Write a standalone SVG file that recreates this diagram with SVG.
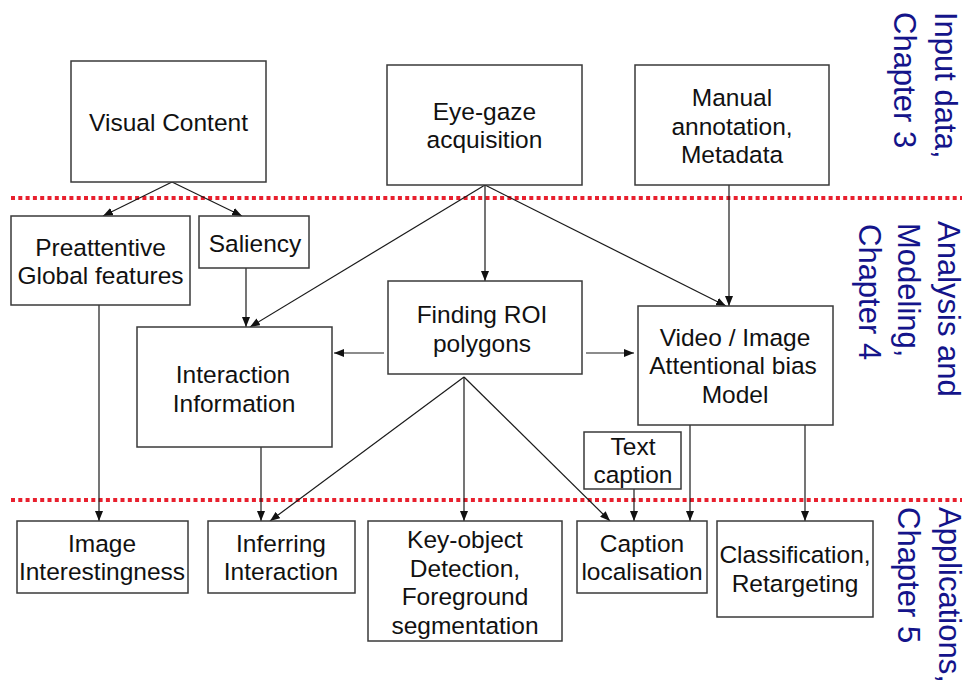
<svg xmlns="http://www.w3.org/2000/svg" width="968" height="686" viewBox="0 0 968 686">
  <style>
    .box { fill: #ffffff; stroke: #3a3a3a; stroke-width: 1.5; }
    .lbl { font-family: "Liberation Sans", Arial, sans-serif; font-size: 24.5px; fill: #111111; text-anchor: middle; }
    .side { font-family: "Liberation Sans", Arial, sans-serif; font-size: 31px; fill: #14148a; }
    .sep { stroke: #e8202e; stroke-width: 4; stroke-dasharray: 4 3.3; fill: none; }
    .edge { stroke: #1a1a1a; stroke-width: 1.2; fill: none; marker-end: url(#arrow); }
  </style>
  <defs>
    <marker id="arrow" markerUnits="userSpaceOnUse" markerWidth="10" markerHeight="8" refX="10" refY="4" orient="auto">
      <path d="M0,0 L10,4 L0,8 z" fill="#111111"/>
    </marker>
  </defs>
  <rect width="968" height="686" fill="#ffffff"/>

  <!-- stage separators -->
  <g id="separators">
    <line class="sep" x1="11" y1="198" x2="962" y2="198"/>
    <line class="sep" x1="11" y1="500" x2="962" y2="500"/>
  </g>

  <!-- stage labels, rotated -->
  <g id="stage-labels">
    <text class="side" transform="translate(935,12) rotate(90)">Input data,</text>
    <text class="side" transform="translate(894,12) rotate(90)">Chapter 3</text>
    <text class="side" transform="translate(938,221) rotate(90)">Analysis and</text>
    <text class="side" transform="translate(898,223) rotate(90)">Modeling,</text>
    <text class="side" transform="translate(859,224) rotate(90)">Chapter 4</text>
    <text class="side" transform="translate(939,507) rotate(90)">Applications,</text>
    <text class="side" transform="translate(898,507) rotate(90)">Chapter 5</text>
  </g>

  <!-- connectors -->
  <g id="connectors">
    <line class="edge" x1="172" y1="182" x2="103" y2="216"/>
    <line class="edge" x1="172" y1="182" x2="242" y2="216"/>
    <line class="edge" x1="485" y1="185" x2="250" y2="327"/>
    <line class="edge" x1="485" y1="185" x2="485" y2="281"/>
    <line class="edge" x1="485" y1="185" x2="726" y2="306"/>
    <line class="edge" x1="729" y1="185" x2="729" y2="306"/>
    <line class="edge" x1="246" y1="268" x2="246" y2="327"/>
    <line class="edge" x1="384" y1="353" x2="334" y2="353"/>
    <line class="edge" x1="586" y1="353" x2="634" y2="353"/>
    <line class="edge" x1="464" y1="377" x2="270" y2="521"/>
    <line class="edge" x1="464" y1="377" x2="464" y2="521"/>
    <line class="edge" x1="464" y1="377" x2="610" y2="521"/>
    <line class="edge" x1="261" y1="447" x2="261" y2="521"/>
    <line class="edge" x1="99" y1="305" x2="99" y2="521"/>
    <line class="edge" x1="634" y1="489" x2="634" y2="521"/>
    <line class="edge" x1="690" y1="425" x2="690" y2="521"/>
    <line class="edge" x1="805" y1="425" x2="805" y2="521"/>
  </g>

  <!-- input data -->
  <g id="visual-content">
    <rect class="box" x="71" y="61" width="195" height="121"/>
    <text class="lbl" x="168.5" y="131">Visual Content</text>
  </g>
  <g id="eye-gaze">
    <rect class="box" x="387" y="65" width="195" height="120"/>
    <text class="lbl" x="484.5" y="120">Eye-gaze</text>
    <text class="lbl" x="484.5" y="148">acquisition</text>
  </g>
  <g id="manual-annotation">
    <rect class="box" x="635" y="65" width="194" height="120"/>
    <text class="lbl" x="732" y="106">Manual</text>
    <text class="lbl" x="732" y="135">annotation,</text>
    <text class="lbl" x="732" y="163">Metadata</text>
  </g>

  <!-- analysis and modeling -->
  <g id="preattentive">
    <rect class="box" x="11" y="216" width="179" height="89"/>
    <text class="lbl" x="100.5" y="256">Preattentive</text>
    <text class="lbl" x="100.5" y="284">Global features</text>
  </g>
  <g id="saliency">
    <rect class="box" x="199" y="216" width="110" height="52"/>
    <text class="lbl" x="255" y="252">Saliency</text>
  </g>
  <g id="interaction-information">
    <rect class="box" x="137" y="327" width="195" height="120"/>
    <text class="lbl" x="233" y="383">Interaction</text>
    <text class="lbl" x="234" y="412">Information</text>
  </g>
  <g id="finding-roi">
    <rect class="box" x="388" y="281" width="194" height="93"/>
    <text class="lbl" x="482" y="323">Finding ROI</text>
    <text class="lbl" x="482" y="352">polygons</text>
  </g>
  <g id="attention-model">
    <rect class="box" x="638" y="306" width="195" height="119"/>
    <text class="lbl" x="735" y="346">Video / Image</text>
    <text class="lbl" x="733" y="374">Attentional bias</text>
    <text class="lbl" x="735" y="403">Model</text>
  </g>
  <g id="text-caption">
    <rect class="box" x="584" y="432" width="97" height="57"/>
    <text class="lbl" x="633" y="455">Text</text>
    <text class="lbl" x="633" y="483">caption</text>
  </g>

  <!-- applications -->
  <g id="image-interestingness">
    <rect class="box" x="17" y="521" width="171" height="72"/>
    <text class="lbl" x="102" y="552">Image</text>
    <text class="lbl" x="102" y="580">Interestingness</text>
  </g>
  <g id="inferring-interaction">
    <rect class="box" x="208" y="521" width="147" height="72"/>
    <text class="lbl" x="281" y="552">Inferring</text>
    <text class="lbl" x="281" y="580">Interaction</text>
  </g>
  <g id="key-object">
    <rect class="box" x="368" y="521" width="194" height="120"/>
    <text class="lbl" x="465" y="548">Key-object</text>
    <text class="lbl" x="465" y="577">Detection,</text>
    <text class="lbl" x="465" y="605">Foreground</text>
    <text class="lbl" x="465" y="634">segmentation</text>
  </g>
  <g id="caption-localisation">
    <rect class="box" x="577" y="521" width="130" height="72"/>
    <text class="lbl" x="642" y="552">Caption</text>
    <text class="lbl" x="642" y="580">localisation</text>
  </g>
  <g id="classification">
    <rect class="box" x="717" y="521" width="156" height="96"/>
    <text class="lbl" x="795" y="563">Classification,</text>
    <text class="lbl" x="795" y="592">Retargeting</text>
  </g>
</svg>
